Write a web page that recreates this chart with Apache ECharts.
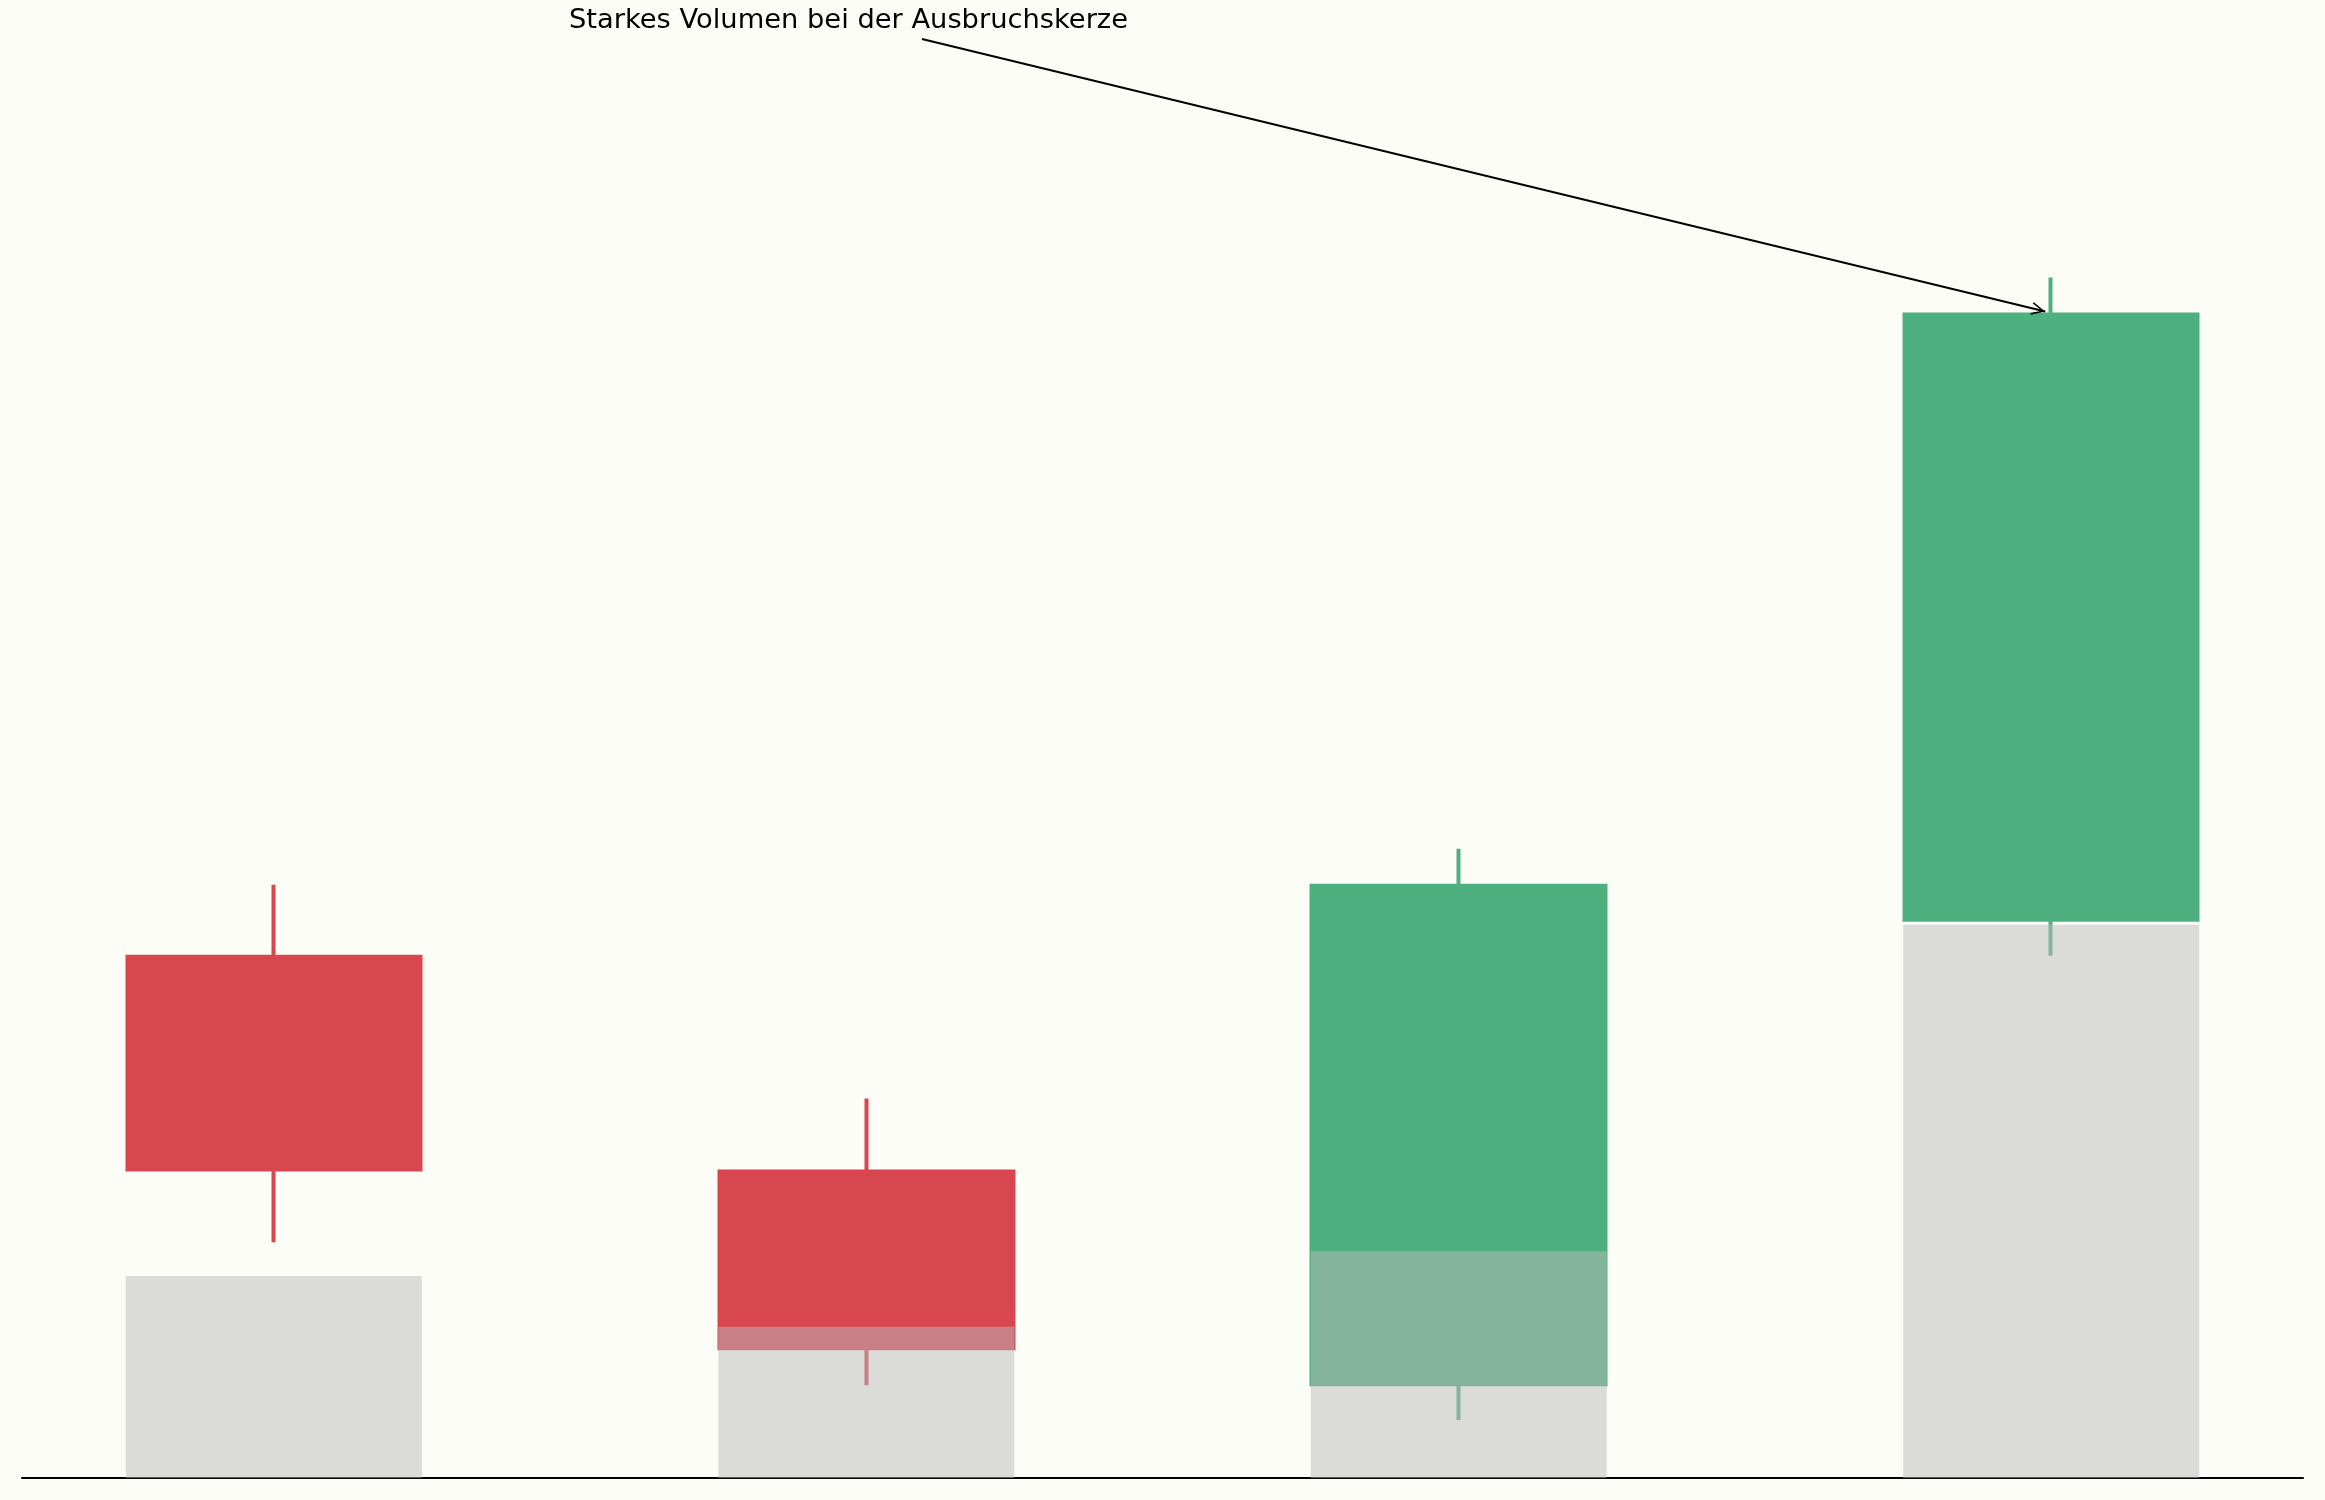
<!DOCTYPE html>
<html>
<head>
<meta charset="utf-8">
<script src="https://cdn.jsdelivr.net/npm/echarts@6/dist/echarts.min.js"></script>
<style>
  html, body { margin: 0; padding: 0; background: #fdfdf8; }
  #chart { width: 2325px; height: 1500px; }
</style>
</head>
<body>
<div id="chart"></div>
<script>
// ---- data ----
const xPositions = [0, 1, 2, 3];
const opens   = [95.22, 93.07, 90.94, 95.59];
const closes  = [93.09, 91.30, 95.93, 101.65];
const lows    = [92.36, 90.93, 90.58, 95.23];
const highs   = [95.94, 93.80, 96.30, 102.02];
const volumes = [547000, 409000, 614000, 1497000];
const annotationText = 'Starkes Volumen bei der Ausbruchskerze';
const annotationTextPos = [0.97, 104.59];
const annotationArrowStart = [1.094, 104.41];
const annotationArrowEnd = [2.99, 101.68];

const candleData = xPositions.map((x, i) => [x, opens[i], closes[i], lows[i], highs[i]]);
const volumeData = xPositions.map((x, i) => [x, volumes[i]]);

const RED = '#d8464f';
const GREEN = '#4fb07f';

// open "->" style arrow head; a tiny speck on the far side keeps the tip at the symbol centre
const chevron = 'path://M6.45,0 L6.55,0 L6.5,0.05 Z M6.5,14 L7.4,15.3 L1.6,27.6 L0,26.9 Z M6.5,14 L13,26.9 L11.4,27.6 L5.6,15.3 Z';

const chart = echarts.init(document.getElementById('chart'));
chart.setOption({
  animation: false,
  backgroundColor: '#fdfdf8',
  textStyle: { fontFamily: 'DejaVu Sans' },
  grid: { left: 22, right: 22, top: 0, bottom: 22 },
  xAxis: {
    type: 'value', min: -0.425, max: 3.425,
    axisLine: { show: true, onZero: false, lineStyle: { color: '#000', width: 2 } },
    axisTick: { show: false }, axisLabel: { show: false }, splitLine: { show: false }
  },
  yAxis: [
    { type: 'value', min: 90, max: 104.8, show: false, splitLine: { show: false } },
    { type: 'value', min: 0, max: 4000000, show: false, splitLine: { show: false } }
  ],
  series: [
    {
      type: 'candlestick',
      xAxisIndex: 0, yAxisIndex: 0,
      z: 2,
      data: candleData,
      encode: { x: 0, y: [1, 2, 3, 4] },
      barWidth: 294,
      itemStyle: { color: GREEN, color0: RED, borderColor: GREEN, borderColor0: RED, borderWidth: 4 },
      markLine: {
        silent: true,
        z: 5,
        symbol: ['none', chevron],
        symbolSize: [13, 28],
        lineStyle: { color: '#000', width: 2, type: 'solid' },
        label: { show: false },
        data: [[ { coord: annotationArrowStart }, { coord: annotationArrowEnd } ]]
      },
      markPoint: {
        silent: true,
        z: 5,
        symbol: 'circle', symbolSize: 1,
        itemStyle: { color: 'rgba(0,0,0,0)' },
        label: { show: true, position: 'inside', color: '#000', fontSize: 27.3, fontFamily: 'DejaVu Sans', formatter: annotationText },
        data: [ { coord: annotationTextPos } ]
      }
    },
    {
      type: 'bar',
      xAxisIndex: 0, yAxisIndex: 1,
      z: 3,
      data: volumeData,
      barWidth: 296,
      itemStyle: { color: 'rgba(186,186,186,0.5)' }
    }
  ]
});
</script>
</body>
</html>
